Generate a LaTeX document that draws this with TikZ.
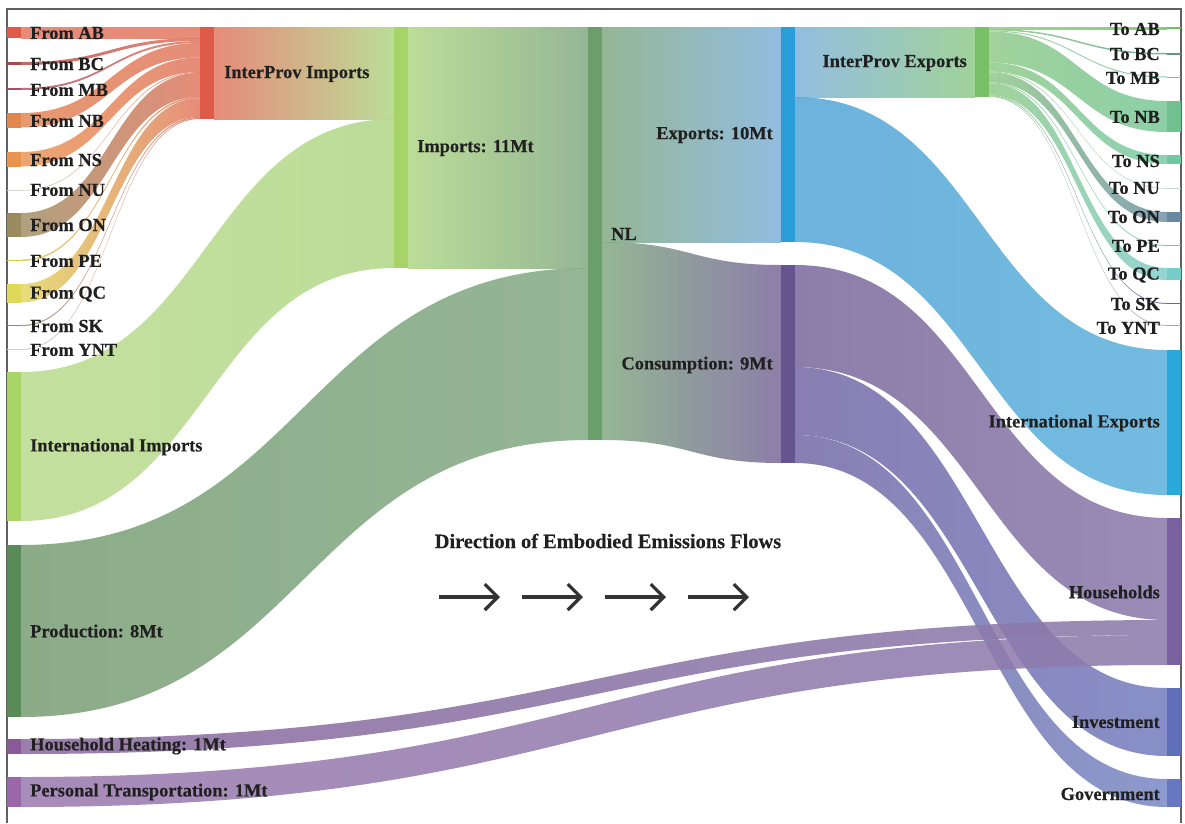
\documentclass[tikz,border=0pt]{standalone}
\usepackage{fontspec}
\setmainfont{Liberation Serif}[BoldFeatures={FakeBold=0.35}]
\usetikzlibrary{arrows.meta}
% node colours
\definecolor{cAB}{HTML}{E05A48}\definecolor{cBC}{HTML}{A84848}\definecolor{cMB}{HTML}{A85060}
\definecolor{cNB}{HTML}{E0864F}\definecolor{cNS}{HTML}{E8944F}\definecolor{cNU}{HTML}{D8D8D0}
\definecolor{cON}{HTML}{9A8A60}\definecolor{cPE}{HTML}{D8CC40}\definecolor{cQC}{HTML}{E0D858}
\definecolor{cSK}{HTML}{8A8A70}\definecolor{cYNT}{HTML}{D0D0C8}
\definecolor{cIPI}{HTML}{E05A48}\definecolor{cII}{HTML}{A8D468}\definecolor{cImp}{HTML}{A6D468}
\definecolor{cProd}{HTML}{5A8C5A}\definecolor{cNL}{HTML}{6A9E6A}\definecolor{cExp}{HTML}{2A9ED8}
\definecolor{cCons}{HTML}{645590}\definecolor{cIPE}{HTML}{78C068}\definecolor{cIE}{HTML}{2AA8D8}
\definecolor{cHH}{HTML}{7A62A0}\definecolor{cInv}{HTML}{6070B8}\definecolor{cGov}{HTML}{6878C0}
\definecolor{cHeat}{HTML}{8A5A98}\definecolor{cTrans}{HTML}{9A68A8}
\definecolor{tAB}{HTML}{70C060}\definecolor{tBC}{HTML}{5A9888}\definecolor{tMB}{HTML}{78C0A0}
\definecolor{tNB}{HTML}{70C090}\definecolor{tNS}{HTML}{70C8A0}\definecolor{tNU}{HTML}{C0D8D0}
\definecolor{tON}{HTML}{6888A0}\definecolor{tPE}{HTML}{70C8C0}\definecolor{tQC}{HTML}{78CCC8}
\definecolor{tSK}{HTML}{6868A8}\definecolor{tYNT}{HTML}{A0A0C8}
% flow colours
\definecolor{fAB}{HTML}{E47A64}\definecolor{fBC}{HTML}{B45454}\definecolor{fMB}{HTML}{B45C6C}
\definecolor{fNB}{HTML}{E48C5C}\definecolor{fNS}{HTML}{EA9A5C}\definecolor{fNU}{HTML}{D4D4CC}
\definecolor{fON}{HTML}{A4946C}\definecolor{fPE}{HTML}{DCCC58}\definecolor{fQC}{HTML}{E4D868}
\definecolor{fSK}{HTML}{96967C}\definecolor{fYNT}{HTML}{CCCCC4}
\definecolor{fIPI}{HTML}{E27C66}\definecolor{fII}{HTML}{BCDC92}\definecolor{fImp}{HTML}{B2D88A}
\definecolor{fProd}{HTML}{7CA078}\definecolor{fNL}{HTML}{86AC86}\definecolor{fExpL}{HTML}{84B4DC}
\definecolor{fIE}{HTML}{58A8D8}\definecolor{fIEr}{HTML}{60B2DC}\definecolor{fIPE}{HTML}{94CC8C}
\definecolor{fCons}{HTML}{7C6C9C}\definecolor{fConsI}{HTML}{786CA8}\definecolor{fHH}{HTML}{8C7CAC}
\definecolor{fInv}{HTML}{7880C0}\definecolor{fGov}{HTML}{7C8CC6}
\definecolor{fHeat}{HTML}{8C6CA0}\definecolor{fTrans}{HTML}{9C7CB0}
\definecolor{gAB}{HTML}{78C46C}\definecolor{gBC}{HTML}{66A494}\definecolor{gMB}{HTML}{7CC4A4}
\definecolor{gNB}{HTML}{7CC89C}\definecolor{gNS}{HTML}{7CCCA8}\definecolor{gNU}{HTML}{C4DCD4}
\definecolor{gON}{HTML}{7494A8}\definecolor{gPE}{HTML}{7CCCC4}\definecolor{gQC}{HTML}{84D0CC}
\definecolor{gSK}{HTML}{7474AC}\definecolor{gYNT}{HTML}{A4A4C4}
\definecolor{txt}{HTML}{202020}\definecolor{framec}{HTML}{606060}\definecolor{arrc}{HTML}{333333}

\newcommand\flowband[8]{%
  \pgfmathsetmacro\fxm{(#1+#4)/2}%
  \shade[left color=#7,right color=#8,fill opacity=0.88]
    (#1,#2) .. controls (\fxm,#2) and (\fxm,#5) .. (#4,#5) -- (#4,#6)
    .. controls (\fxm,#6) and (\fxm,#3) .. (#1,#3) -- cycle;}
\newcommand\sbar[5]{%
  \pgfmathsetmacro\bh{#4-#3}%
  \node[barnode, fill=#5, minimum height=\bh pt] (#1) at (#2,#3) {};}

\begin{document}
\begin{tikzpicture}[x=1pt,y=-1pt,
  barnode/.style={draw=none, inner sep=0pt, outer sep=0pt, minimum width=14pt, anchor=north west},
  lbl/.style={font=\fontsize{18.4}{20}\selectfont\bfseries, text=txt, inner sep=0pt},
  dirarrow/.style={draw=arrc, line width=3.2pt, -{Straight Barb[length=13pt,width=26pt,line width=3.2pt]}}]
\useasboundingbox (0,0) rectangle (1185,823);
% frame
\draw[framec, line width=1.1pt] (7,823) -- (7,9) -- (1181,9) -- (1181,823);

% ---- flows column 0 -> InterProv Imports
\flowband{21}{27}{38}{200}{27}{38}{fAB}{fIPI}
\flowband{21}{62}{65}{200}{38}{41}{fBC}{fIPI}
\flowband{21}{88}{90}{200}{41}{43}{fMB}{fIPI}
\flowband{21}{113}{127.5}{200}{43}{57.5}{fNB}{fIPI}
\flowband{21}{152}{166.5}{200}{57.5}{72}{fNS}{fIPI}
\flowband{21}{190}{190.8}{200}{72}{72.8}{fNU}{fIPI}
\flowband{21}{213}{237}{200}{72.8}{96.8}{fON}{fIPI}
\flowband{21}{259.5}{261}{200}{96.8}{98.3}{fPE}{fIPI}
\flowband{21}{284}{302.5}{200}{98.3}{116.8}{fQC}{fIPI}
\flowband{21}{325}{326.2}{200}{116.8}{118}{fSK}{fIPI}
\flowband{21}{349}{350}{200}{118}{119}{fYNT}{fIPI}
% ---- to Imports
\flowband{214}{27}{119}{394}{27}{119}{fIPI}{fImp}
\flowband{21}{372}{521}{394}{119}{268}{fII}{fImp}
% ---- to NL
\flowband{408}{27}{268}{588}{27}{268}{fImp}{fNL}
\flowband{21}{545}{717}{588}{268}{440}{fProd}{fNL}
% ---- from NL
\flowband{602}{27}{242}{781}{27}{242}{fNL}{fExpL}
\flowband{602}{242}{440}{781}{265}{463}{fNL}{fCons}
% ---- from Exports
\flowband{795}{27}{97}{975}{27}{97}{fExpL}{fIPE}
\flowband{795}{97}{242}{1167}{350}{495}{fIE}{fIEr}
% ---- InterProv Exports -> provinces
\flowband{989}{27}{29}{1167}{27}{29}{fIPE}{gAB}
\flowband{989}{29}{30.5}{1167}{53}{54.5}{fIPE}{gBC}
\flowband{989}{30.5}{31.5}{1167}{76.5}{77.5}{fIPE}{gMB}
\flowband{989}{31.5}{62.5}{1167}{101}{132}{fIPE}{gNB}
\flowband{989}{62.5}{71.5}{1167}{155}{164}{fIPE}{gNS}
\flowband{989}{71.5}{72.3}{1167}{188}{188.8}{fIPE}{gNU}
\flowband{989}{72.3}{82.3}{1167}{212}{222}{fIPE}{gON}
\flowband{989}{82.3}{83.3}{1167}{245}{246}{fIPE}{gPE}
\flowband{989}{83.3}{95.3}{1167}{268}{280}{fIPE}{gQC}
\flowband{989}{95.3}{96.3}{1167}{303}{304}{fIPE}{gSK}
\flowband{989}{96.3}{97}{1167}{325}{325.8}{fIPE}{gYNT}
% ---- from Consumption
\flowband{795}{265}{367}{1167}{518}{620}{fCons}{fHH}
\flowband{795}{367}{435}{1167}{688}{756}{fConsI}{fInv}
\flowband{795}{435}{463}{1167}{779}{807}{fConsI}{fGov}
% ---- direct to Households
\flowband{21}{739}{754}{1167}{620}{635}{fHeat}{fHH}
\flowband{21}{777}{807}{1167}{635}{665}{fTrans}{fHH}

% ---- bars
\sbar{nAB}{7}{27}{38}{cAB}
\sbar{nBC}{7}{62}{65}{cBC}
\sbar{nMB}{7}{88}{90}{cMB}
\sbar{nNB}{7}{113}{127.5}{cNB}
\sbar{nNS}{7}{152}{166.5}{cNS}
\sbar{nNU}{7}{190}{190.8}{cNU}
\sbar{nON}{7}{213}{237}{cON}
\sbar{nPE}{7}{259.5}{261}{cPE}
\sbar{nQC}{7}{284}{302.5}{cQC}
\sbar{nSK}{7}{325}{326.2}{cSK}
\sbar{nYNT}{7}{349}{350}{cYNT}
\sbar{nII}{7}{372}{521}{cII}
\sbar{nProd}{7}{545}{717}{cProd}
\sbar{nHeat}{7}{739}{754}{cHeat}
\sbar{nTrans}{7}{777}{807}{cTrans}
\sbar{nIPI}{200}{27}{119}{cIPI}
\sbar{nImp}{394}{27}{268}{cImp}
\sbar{nNL}{588}{27}{440}{cNL}
\sbar{nExp}{781}{27}{242}{cExp}
\sbar{nCons}{781}{265}{463}{cCons}
\sbar{nIPE}{975}{27}{97}{cIPE}
\sbar{tAB}{1167}{27}{29}{tAB}
\sbar{tBC}{1167}{53}{54.5}{tBC}
\sbar{tMB}{1167}{76.5}{77.5}{tMB}
\sbar{tNB}{1167}{101}{132}{tNB}
\sbar{tNS}{1167}{155}{164}{tNS}
\sbar{tNU}{1167}{188}{188.8}{tNU}
\sbar{tON}{1167}{212}{222}{tON}
\sbar{tPE}{1167}{245}{246}{tPE}
\sbar{tQC}{1167}{268}{280}{tQC}
\sbar{tSK}{1167}{303}{304}{tSK}
\sbar{tYNT}{1167}{325}{325.8}{tYNT}
\sbar{nIE}{1167}{350}{495}{cIE}
\sbar{nHH}{1167}{518}{665}{cHH}
\sbar{nInv}{1167}{688}{756}{cInv}
\sbar{nGov}{1167}{779}{807}{cGov}

% ---- labels, left column
\node[lbl,anchor=west] (lAB) at (30,33) {From AB};
\node[lbl,anchor=west] (lBC) at (30,64) {From BC};
\node[lbl,anchor=west] (lMB) at (30,90) {From MB};
\node[lbl,anchor=west] (lNB) at (30,121) {From NB};
\node[lbl,anchor=west] (lNS) at (30,160) {From NS};
\node[lbl,anchor=west] (lNU) at (30,190) {From NU};
\node[lbl,anchor=west] (lON) at (30,225) {From ON};
\node[lbl,anchor=west] (lPE) at (30,261) {From PE};
\node[lbl,anchor=west] (lQC) at (30,294) {From QC};
\node[lbl,anchor=west] (lSK) at (30,326) {From SK};
\node[lbl,anchor=west] (lYNT) at (30,350) {From YNT};
\node[lbl,anchor=west] (lII) at (30,447) {International Imports};
\node[lbl,anchor=west] (lProd) at (30,631) {Production: 8Mt};
\node[lbl,anchor=west] (lHeat) at (30,746) {Household Heating: 1Mt};
\node[lbl,anchor=west] (lTrans) at (30,792) {Personal Transportation: 1Mt};
% ---- labels, middle
\node[lbl,anchor=west] (lIPI) at (224,74) {InterProv Imports};
\node[lbl,anchor=west] (lImp) at (417,148) {Imports: 11Mt};
\node[lbl,anchor=west] (lNL) at (611,234) {NL};
\node[lbl,anchor=east] (lExp) at (773,135) {Exports: 10Mt};
\node[lbl,anchor=east] (lCons) at (773,365) {Consumption: 9Mt};
\node[lbl,anchor=east] (lIPE) at (967,63) {InterProv Exports};
% ---- labels, right column
\node[lbl,anchor=east] (rAB) at (1160,29) {To AB};
\node[lbl,anchor=east] (rBC) at (1160,54) {To BC};
\node[lbl,anchor=east] (rMB) at (1160,78) {To MB};
\node[lbl,anchor=east] (rNB) at (1160,117) {To NB};
\node[lbl,anchor=east] (rNS) at (1160,161) {To NS};
\node[lbl,anchor=east] (rNU) at (1160,188) {To NU};
\node[lbl,anchor=east] (rON) at (1160,217) {To ON};
\node[lbl,anchor=east] (rPE) at (1160,246) {To PE};
\node[lbl,anchor=east] (rQC) at (1160,275) {To QC};
\node[lbl,anchor=east] (rSK) at (1160,304) {To SK};
\node[lbl,anchor=east] (rYNT) at (1160,328) {To YNT};
\node[lbl,anchor=east] (rIE) at (1160,423) {International Exports};
\node[lbl,anchor=east] (rHH) at (1160,592) {Households};
\node[lbl,anchor=east] (rInv) at (1160,722) {Investment};
\node[lbl,anchor=east] (rGov) at (1160,794) {Government};

% ---- direction note
\node[lbl,font=\fontsize{20.4}{22}\selectfont\bfseries] (dirtitle) at (608,541) {Direction of Embodied Emissions Flows};
\coordinate (a1s) at (439,597); \coordinate (a1e) at (500,597);
\coordinate (a2s) at (522,597); \coordinate (a2e) at (583,597);
\coordinate (a3s) at (605,597); \coordinate (a3e) at (666,597);
\coordinate (a4s) at (688,597); \coordinate (a4e) at (749,597);
\draw[dirarrow] (a1s) -- (a1e);
\draw[dirarrow] (a2s) -- (a2e);
\draw[dirarrow] (a3s) -- (a3e);
\draw[dirarrow] (a4s) -- (a4e);
\end{tikzpicture}
\end{document}
